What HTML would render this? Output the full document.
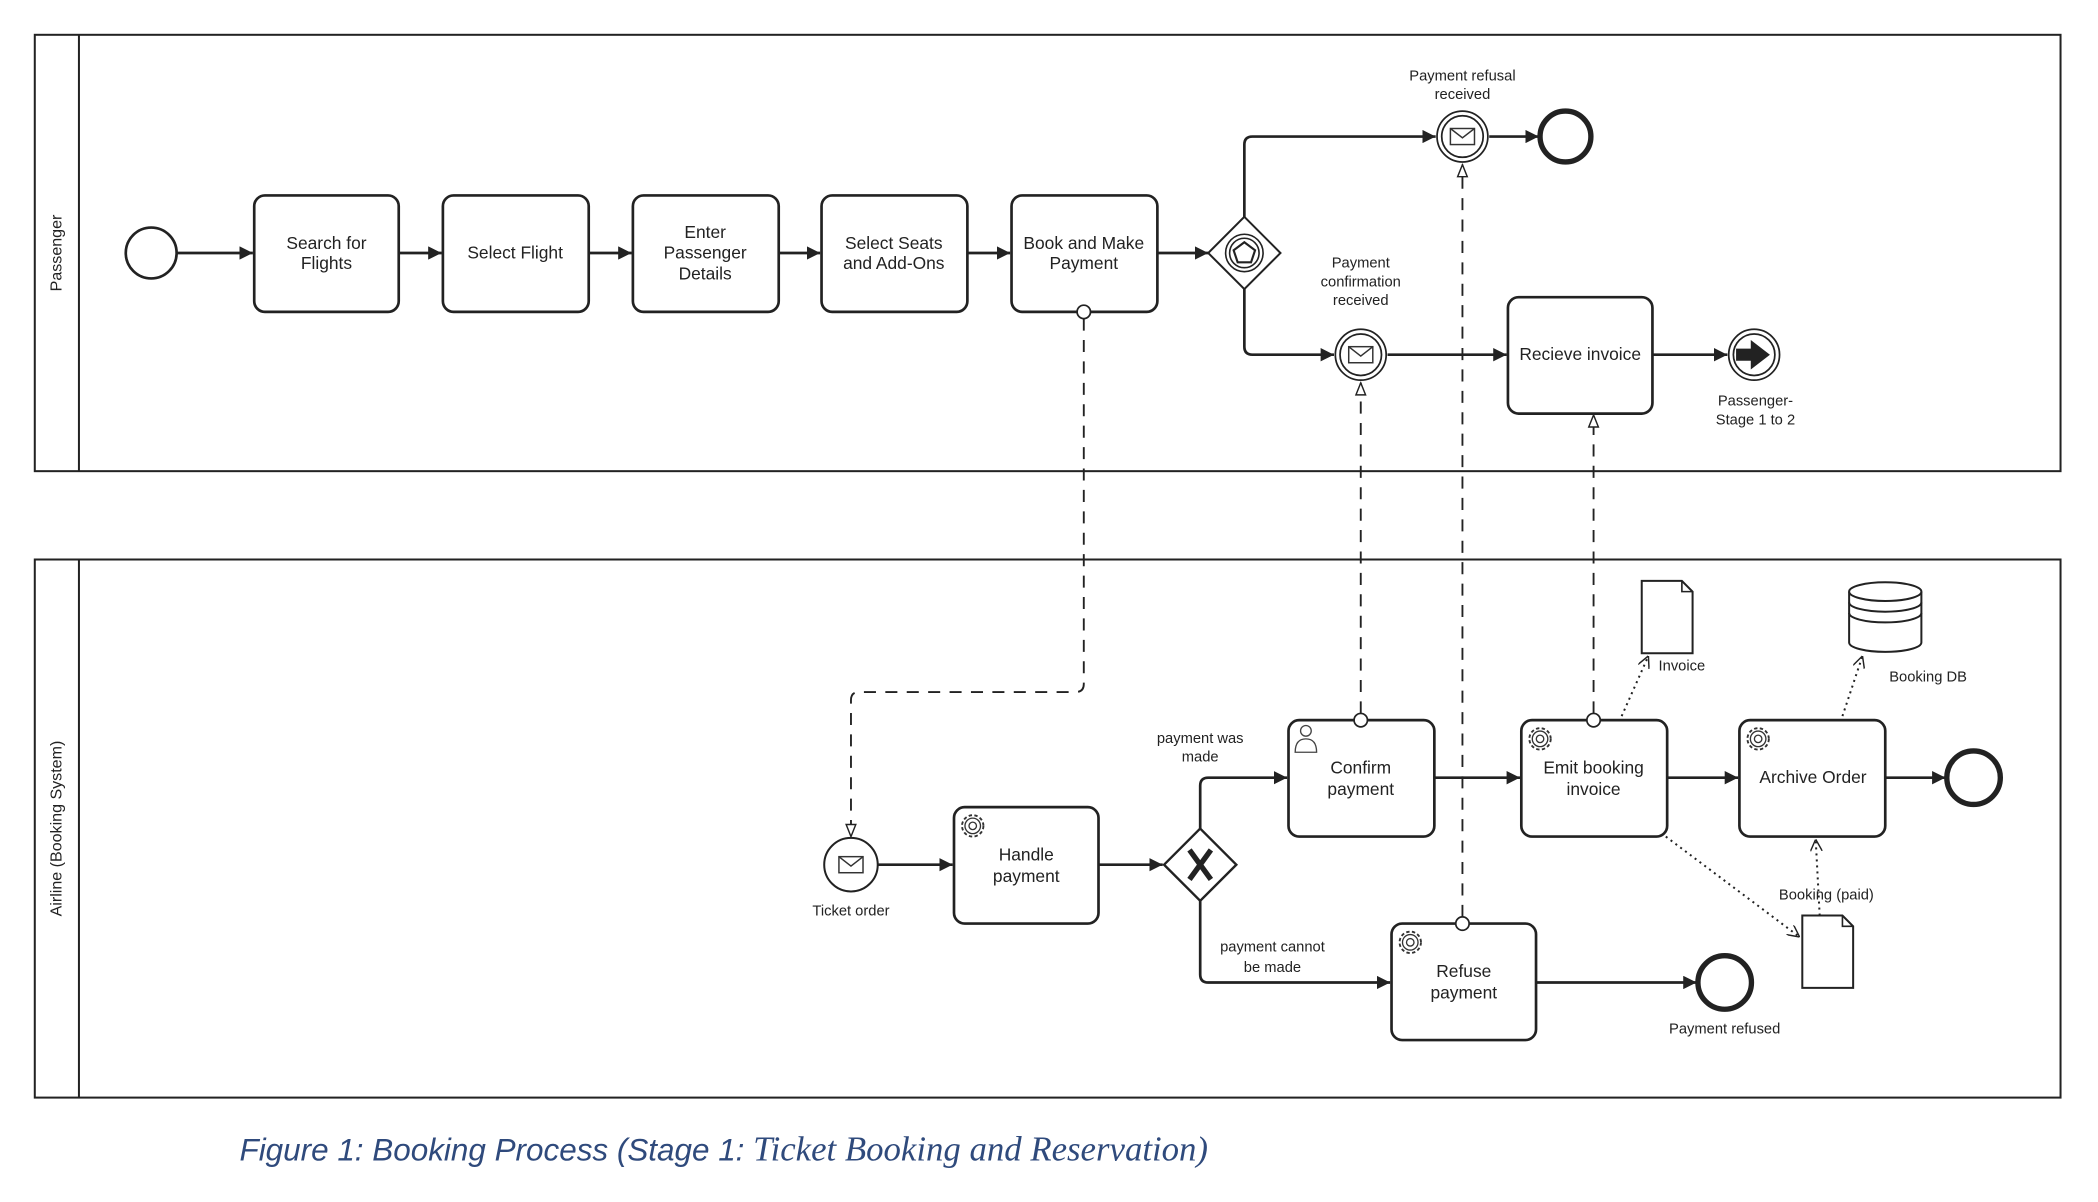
<!DOCTYPE html>
<html><head><meta charset="utf-8"><style>
html,body{margin:0;padding:0;background:#fff;}
svg{display:block;}
text{font-family:"Liberation Sans",sans-serif;fill:#222;}
</style></head><body>
<svg width="2098" height="1202" viewBox="0 0 1568 898" preserveAspectRatio="none" xmlns="http://www.w3.org/2000/svg">
<defs>
<marker id="a" viewBox="0 0 10 10" refX="10" refY="5" markerWidth="10" markerHeight="10" markerUnits="userSpaceOnUse" orient="auto"><path d="M0,0L10,5L0,10z" fill="#222"/></marker>
<marker id="o" viewBox="0 0 10 10" refX="10" refY="5" markerWidth="11" markerHeight="9" markerUnits="userSpaceOnUse" orient="auto"><path d="M0,1L10,5L0,9z" fill="#fff" stroke="#222" stroke-width="1.2"/></marker>
<marker id="v" viewBox="0 0 10 10" refX="10" refY="5" markerWidth="9" markerHeight="9" markerUnits="userSpaceOnUse" orient="auto"><path d="M0,0L10,5L0,10" fill="none" stroke="#222" stroke-width="1.2"/></marker>
<g id="gear"><circle cx="0" cy="0" r="8" fill="none" stroke="#333" stroke-width="1.4" stroke-dasharray="2.5 1.8"/><circle cx="0" cy="0" r="5.8" fill="none" stroke="#333" stroke-width="1"/><circle cx="0" cy="0" r="2.8" fill="none" stroke="#333" stroke-width="1"/></g>
<g id="env"><rect x="-9" y="-6" width="18" height="12" fill="#fff" stroke="#333" stroke-width="1.1"/><path d="M-9,-6L0,1L9,-6" fill="none" stroke="#333" stroke-width="1.1"/></g>
</defs>
<g stroke="#222" fill="none">
<rect x="26" y="26" width="1514" height="326" stroke-width="1.5"/>
<line x1="59" y1="26" x2="59" y2="352" stroke-width="1.5"/>
<rect x="26" y="418" width="1514" height="402" stroke-width="1.5"/>
<line x1="59" y1="418" x2="59" y2="820" stroke-width="1.5"/>
<circle cx="113" cy="189" r="19" stroke-width="2"/>
<g stroke-width="2">
<rect x="190" y="146" width="108" height="87" rx="8"/>
<rect x="331" y="146" width="109" height="87" rx="8"/>
<rect x="473" y="146" width="109" height="87" rx="8"/>
<rect x="614" y="146" width="109" height="87" rx="8"/>
<rect x="756" y="146" width="109" height="87" rx="8"/>
<rect x="1127" y="222" width="108" height="87" rx="8"/>
</g>
<g stroke-width="2" marker-end="url(#a)">
<line x1="132" y1="189" x2="189" y2="189"/>
<line x1="298" y1="189" x2="330" y2="189"/>
<line x1="440" y1="189" x2="472" y2="189"/>
<line x1="582" y1="189" x2="613" y2="189"/>
<line x1="723" y1="189" x2="755" y2="189"/>
<line x1="865" y1="189" x2="903" y2="189"/>
<path d="M930,162V108q0,-6 6,-6H1073"/>
<line x1="1113" y1="102" x2="1150" y2="102"/>
<path d="M930,216V259q0,6 6,6H997"/>
<line x1="1037" y1="265" x2="1126" y2="265"/>
<line x1="1235" y1="265" x2="1291" y2="265"/>
</g>
<path d="M930,162L957,189L930,216L903,189z" fill="#fff" stroke-width="1.5"/>
<circle cx="930" cy="189" r="14" stroke-width="1.2"/><circle cx="930" cy="189" r="11" stroke-width="1.2"/>
<path d="M930,181L938,187L935,196H925L922,187z" stroke-width="1.6"/>
<circle cx="1093" cy="102" r="19" stroke-width="1.3" fill="#fff"/><circle cx="1093" cy="102" r="15.5" stroke-width="1.3"/>
<use href="#env" x="1093" y="102"/>
<circle cx="1170" cy="102" r="19" stroke-width="4"/>
<circle cx="1017" cy="265" r="19" stroke-width="1.3" fill="#fff"/><circle cx="1017" cy="265" r="15.5" stroke-width="1.3"/>
<use href="#env" x="1017" y="265"/>
<circle cx="1311" cy="265" r="19" stroke-width="1.3"/><circle cx="1311" cy="265" r="15.5" stroke-width="1.3"/>
<path d="M1298,261H1309V255L1322,265L1309,275V269H1298z" fill="#222" stroke-width="1"/>
<g stroke-width="2">
<rect x="713" y="603" width="108" height="87" rx="8"/>
<rect x="963" y="538" width="109" height="87" rx="8"/>
<rect x="1137" y="538" width="109" height="87" rx="8"/>
<rect x="1300" y="538" width="109" height="87" rx="8"/>
<rect x="1040" y="690" width="108" height="87" rx="8"/>
</g>
<use href="#gear" x="727" y="617"/><use href="#gear" x="1151" y="552"/><use href="#gear" x="1314" y="552"/><use href="#gear" x="1054" y="704"/>
<g stroke-width="1" stroke="#444"><circle cx="976" cy="546" r="4"/><path d="M968,562q0,-10 8,-10q8,0 8,10z"/></g>
<circle cx="636" cy="646" r="20" stroke-width="1.5"/><use href="#env" x="636" y="646"/>
<g stroke-width="2" marker-end="url(#a)">
<line x1="656" y1="646" x2="712" y2="646"/>
<line x1="821" y1="646" x2="869" y2="646"/>
<path d="M897,619V587q0,-6 6,-6H962"/>
<path d="M897,673V728q0,6 6,6H1039"/>
<line x1="1072" y1="581" x2="1136" y2="581"/>
<line x1="1246" y1="581" x2="1299" y2="581"/>
<line x1="1409" y1="581" x2="1454" y2="581"/>
<line x1="1148" y1="734" x2="1268" y2="734"/>
</g>
<path d="M897,619L924,646L897,673L870,646z" fill="#fff" stroke-width="1.8"/>
<path d="M889,635L905,657M905,635L889,657" stroke-width="4"/>
<circle cx="1475" cy="581" r="20" stroke-width="4"/>
<circle cx="1289" cy="734" r="20" stroke-width="4"/>
<path d="M1227,434H1257L1265,442V488H1227z" stroke-width="1.5" fill="#fff"/><path d="M1257,434V442H1265" stroke-width="1.2"/>
<path d="M1347,684H1377L1385,692V738H1347z" stroke-width="1.5" fill="#fff"/><path d="M1377,684V692H1385" stroke-width="1.2"/>
<path d="M1382,442V480A27,7 0 0 0 1436,480V442" stroke-width="1.5" fill="#fff"/>
<ellipse cx="1409" cy="442" rx="27" ry="7" stroke-width="1.5" fill="#fff"/>
<path d="M1382,450A27,7 0 0 0 1436,450M1382,458A27,7 0 0 0 1436,458" stroke-width="1.5"/>
<g stroke-width="1.5" stroke-dasharray="1.5 3" marker-end="url(#v)">
<line x1="1212" y1="535" x2="1232" y2="490"/>
<line x1="1377" y1="535" x2="1392" y2="490"/>
<line x1="1245" y1="625" x2="1345" y2="700"/>
<line x1="1360" y1="684" x2="1357" y2="627"/>
</g>
<g stroke-width="1.4" stroke-dasharray="9 7" marker-end="url(#o)">
<path d="M810,238V511q0,6 -6,6H642q-6,0 -6,6V625"/>
<line x1="1017" y1="533" x2="1017" y2="286"/>
<line x1="1093" y1="685" x2="1093" y2="123"/>
<line x1="1191" y1="533" x2="1191" y2="310"/>
</g>
<g stroke-width="1.3" fill="#fff"><circle cx="810" cy="233" r="5"/><circle cx="1017" cy="538" r="5"/><circle cx="1093" cy="690" r="5"/><circle cx="1191" cy="538" r="5"/></g>
</g>
<g font-size="13" text-anchor="middle">
<text x="244" y="186">Search for</text><text x="244" y="201">Flights</text>
<text x="385" y="193">Select Flight</text>
<text x="527" y="178">Enter</text><text x="527" y="193">Passenger</text><text x="527" y="209">Details</text>
<text x="668" y="186">Select Seats</text><text x="668" y="201">and Add-Ons</text>
<text x="810" y="186">Book and Make</text><text x="810" y="201">Payment</text>
<text x="1181" y="269">Recieve invoice</text>
<text x="767" y="643">Handle</text><text x="767" y="659">payment</text>
<text x="1017" y="578">Confirm</text><text x="1017" y="594">payment</text>
<text x="1191" y="578">Emit booking</text><text x="1191" y="594">invoice</text>
<text x="1355" y="585">Archive Order</text>
<text x="1094" y="730">Refuse</text><text x="1094" y="746">payment</text>
</g>
<g font-size="11" text-anchor="middle">
<text x="1093" y="60">Payment refusal</text><text x="1093" y="74">received</text>
<text x="1017" y="200">Payment</text><text x="1017" y="214">confirmation</text><text x="1017" y="228">received</text>
<text x="1312" y="303">Passenger-</text><text x="1312" y="317">Stage 1 to 2</text>
<text x="636" y="684">Ticket order</text>
<text x="897" y="555">payment was</text><text x="897" y="569">made</text>
<text x="951" y="711">payment cannot</text><text x="951" y="726">be made</text>
<text x="1257" y="501">Invoice</text>
<text x="1441" y="509">Booking DB</text>
<text x="1365" y="672">Booking (paid)</text>
<text x="1289" y="772">Payment refused</text>
</g>
<text font-size="12" transform="translate(46,189) rotate(-90)" text-anchor="middle">Passenger</text>
<text font-size="12" transform="translate(46,619) rotate(-90)" text-anchor="middle">Airline (Booking System)</text>
<text x="179" y="867" font-size="23.5" font-style="italic" style="fill:#2f4a7c">Figure 1: Booking Process (Stage 1: <tspan font-family="Liberation Serif, serif" font-size="26">Ticket Booking and Reservation)</tspan></text>
</svg>
</body></html>
